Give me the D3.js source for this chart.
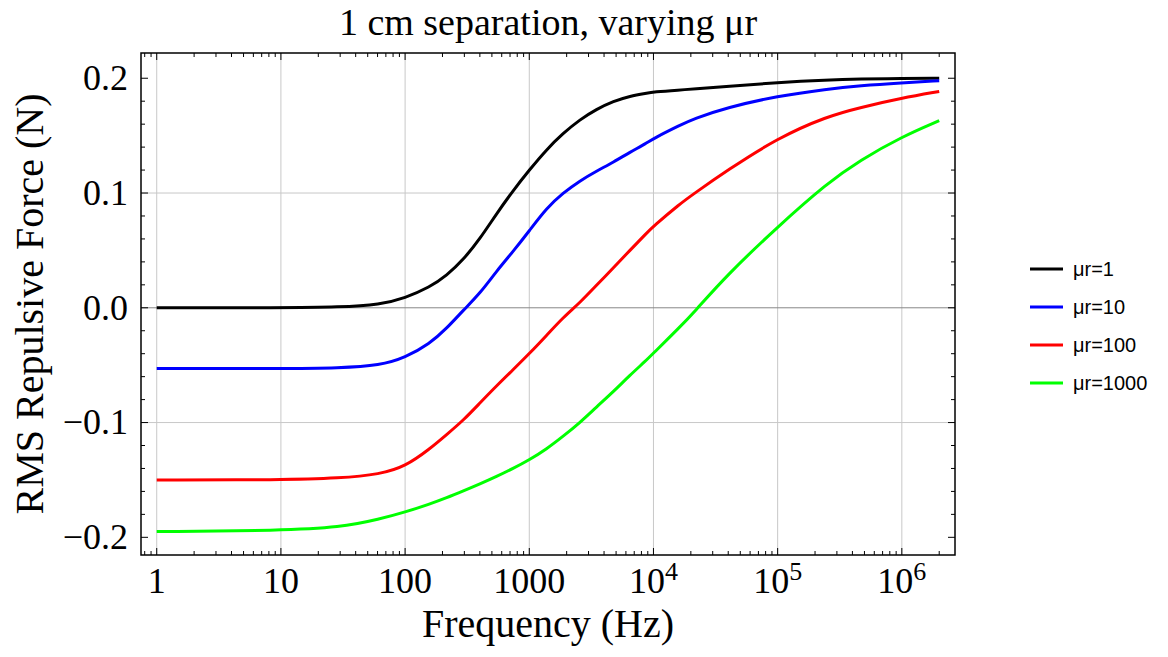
<!DOCTYPE html>
<html>
<head>
<meta charset="utf-8">
<script src="https://cdn.jsdelivr.net/npm/d3@7"></script>
<style>
  html, body { margin: 0; padding: 0; background: #fff; }
  svg { display: block; }
</style>
</head>
<body>
<svg id="chart" width="1168" height="657"></svg>
<script>
// frequency samples (Hz), shared by all curves
const freqs = [1, 10, 30, 63, 100, 158, 216, 295, 400, 545, 740, 1000, 1380, 1870, 2560, 3470,
  4770, 6460, 8800, 10000, 16300, 20900, 39000, 100000, 250000, 460000, 1000000, 2000000];

// RMS repulsive force (N)
const forceMu1 = [0, 0, 0.0005, 0.0028, 0.0085, 0.018, 0.028, 0.042, 0.060, 0.082, 0.102, 0.120, 0.138, 0.152,
  0.164, 0.173, 0.180, 0.1845, 0.187, 0.188, 0.1898, 0.1906, 0.1928, 0.1963, 0.1985, 0.1993, 0.1998, 0.200];
const forceMu10 = [-0.053, -0.053, -0.0525, -0.0502, -0.0435, -0.0313, -0.018, -0.002, 0.0124, 0.032, 0.049, 0.067,
  0.087, 0.100, 0.1107, 0.119, 0.127, 0.1355, 0.1435, 0.1475, 0.159, 0.1645, 0.1745, 0.1845, 0.1906, 0.1935, 0.196, 0.1978];
const forceMu100 = [-0.150, -0.150, -0.1485, -0.145, -0.1384, -0.123, -0.1105, -0.098, -0.083, -0.068, -0.054, -0.040,
  -0.024, -0.0085, 0.0045, 0.0195, 0.035, 0.050, 0.065, 0.071, 0.0905, 0.099, 0.1195, 0.148, 0.1668, 0.1745, 0.1827, 0.1885];
const forceMu1000 = [-0.195, -0.194, -0.1915, -0.184, -0.178, -0.171, -0.1655, -0.1595, -0.1535, -0.147, -0.140, -0.1325,
  -0.123, -0.112, -0.100, -0.0865, -0.073, -0.0587, -0.0456, -0.0395, -0.0168, -0.0047, 0.0285, 0.0706, 0.1085, 0.1285, 0.149, 0.163];

const seriesNames = ['μr=1', 'μr=10', 'μr=100', 'μr=1000'];
const seriesColors = ['#000000', '#0000ff', '#ff0000', '#00ff00'];
const seriesValues = [forceMu1, forceMu10, forceMu100, forceMu1000];

const xMajorTicks = [1, 10, 100, 1000, 1e4, 1e5, 1e6];
const xTickLabels = [['1'], ['10'], ['100'], ['1000'], ['10', '4'], ['10', '5'], ['10', '6']];
const yMajorTicks = [-0.2, -0.1, 0, 0.1, 0.2];
const yTickLabels = ['\u22120.2', '\u22120.1', '0.0', '0.1', '0.2'];
const yGridLines = [-0.1, 0, 0.1];

const titleText = '1 cm separation, varying μr';
const xLabelText = 'Frequency (Hz)';
const yLabelText = 'RMS Repulsive Force (N)';

const svg = d3.select('#chart');
const box = { left: 141, right: 955, top: 53, bottom: 555 };
const serif = '"Liberation Serif", "Times New Roman", serif';
const sans = '"Liberation Sans", Arial, sans-serif';

const x = d3.scaleLog([0.747, 2.68e6], [box.left, box.right]);
const y = d3.scaleLinear([-0.2154, 0.222], [box.bottom, box.top]);

// minor ticks: 2..9 of every decade inside the domain
const xMinor = [];
for (let e = -1; e <= 6; e++) {
  for (let k = 2; k <= 9; k++) {
    const v = k * Math.pow(10, e);
    if (v >= x.domain()[0] && v <= x.domain()[1]) xMinor.push(v);
  }
}
const yMinor = d3.range(-20, 22, 2).map(d => d / 100).filter(d => Math.abs(d * 10 - Math.round(d * 10)) > 1e-6);

// grid
const grid = svg.append('g');
grid.selectAll('.vgrid')
  .data(xMajorTicks)
  .join('line')
    .attr('x1', d => x(d)).attr('x2', d => x(d))
    .attr('y1', box.top).attr('y2', box.bottom)
    .attr('stroke', '#c8c8c8').attr('stroke-width', 1);
grid.selectAll('.hgrid')
  .data(yGridLines)
  .join('line')
    .attr('x1', box.left).attr('x2', box.right)
    .attr('y1', d => y(d)).attr('y2', d => y(d))
    .attr('stroke', d => d === 0 ? '#888' : '#c8c8c8')
    .attr('stroke-width', 1);

// curves
const line = d3.line()
  .x((d, i) => x(freqs[i]))
  .y(d => y(d))
  .curve(d3.curveBasis);
svg.append('g')
  .selectAll('path')
  .data(seriesValues)
  .join('path')
    .attr('fill', 'none')
    .attr('stroke', (d, i) => seriesColors[i])
    .attr('stroke-width', 3)
    .attr('stroke-linejoin', 'round')
    .attr('d', line);

// frame and ticks
const frame = svg.append('g');
frame.append('rect')
  .attr('x', box.left).attr('y', box.top)
  .attr('width', box.right - box.left).attr('height', box.bottom - box.top)
  .attr('fill', 'none').attr('stroke', '#000').attr('stroke-width', 1.5);

const xTicks = xMajorTicks.map(v => ({ v, len: 7 })).concat(xMinor.map(v => ({ v, len: 4 })));
frame.selectAll('.xtick-b')
  .data(xTicks)
  .join('line')
    .attr('x1', d => x(d.v)).attr('x2', d => x(d.v))
    .attr('y1', box.bottom).attr('y2', d => box.bottom - d.len)
    .attr('stroke', '#000').attr('stroke-width', 1);
frame.selectAll('.xtick-t')
  .data(xTicks)
  .join('line')
    .attr('x1', d => x(d.v)).attr('x2', d => x(d.v))
    .attr('y1', box.top).attr('y2', d => box.top + d.len)
    .attr('stroke', '#000').attr('stroke-width', 1);

const yTicks = yMajorTicks.map(v => ({ v, len: 7 })).concat(yMinor.map(v => ({ v, len: 4 })));
frame.selectAll('.ytick-l')
  .data(yTicks)
  .join('line')
    .attr('x1', box.left).attr('x2', d => box.left + d.len)
    .attr('y1', d => y(d.v)).attr('y2', d => y(d.v))
    .attr('stroke', '#000').attr('stroke-width', 1);
frame.selectAll('.ytick-r')
  .data(yTicks)
  .join('line')
    .attr('x1', box.right).attr('x2', d => box.right - d.len)
    .attr('y1', d => y(d.v)).attr('y2', d => y(d.v))
    .attr('stroke', '#000').attr('stroke-width', 1);

// tick labels
const xLab = svg.append('g')
  .attr('font-family', serif).attr('font-size', 36).attr('text-anchor', 'middle');
xLab.selectAll('text')
  .data(xMajorTicks)
  .join('text')
    .attr('x', d => x(d))
    .attr('y', box.bottom + 38)
    .each(function(d, i) {
      const [base, sup] = xTickLabels[i];
      const t = d3.select(this);
      t.append('tspan').text(base);
      if (sup) t.append('tspan').attr('dy', -13).attr('font-size', 26).text(sup);
    });

svg.append('g')
  .attr('font-family', serif).attr('font-size', 36).attr('text-anchor', 'end')
  .selectAll('text')
  .data(yMajorTicks)
  .join('text')
    .attr('x', box.left - 13)
    .attr('y', d => y(d))
    .attr('dy', '0.33em')
    .text((d, i) => yTickLabels[i]);

// title and axis labels
svg.append('text')
  .attr('x', (box.left + box.right) / 2).attr('y', 35)
  .attr('text-anchor', 'middle')
  .attr('font-family', serif).attr('font-size', 38)
  .text(titleText);
svg.append('text')
  .attr('x', (box.left + box.right) / 2).attr('y', 637)
  .attr('text-anchor', 'middle')
  .attr('font-family', serif).attr('font-size', 40)
  .text(xLabelText);
svg.append('text')
  .attr('transform', `translate(43, ${(box.top + box.bottom) / 2}) rotate(-90)`)
  .attr('text-anchor', 'middle')
  .attr('font-family', serif).attr('font-size', 40)
  .text(yLabelText);

// legend
const legend = svg.append('g').attr('transform', 'translate(1030, 269)');
const item = legend.selectAll('g')
  .data(seriesNames)
  .join('g')
    .attr('transform', (d, i) => `translate(0, ${i * 38})`);
item.append('line')
  .attr('x1', 0).attr('x2', 33)
  .attr('stroke', (d, i) => seriesColors[i])
  .attr('stroke-width', 3);
item.append('text')
  .attr('x', 43).attr('dy', '0.35em')
  .attr('font-family', sans).attr('font-size', 20)
  .text(d => d);
</script>
</body>
</html>
